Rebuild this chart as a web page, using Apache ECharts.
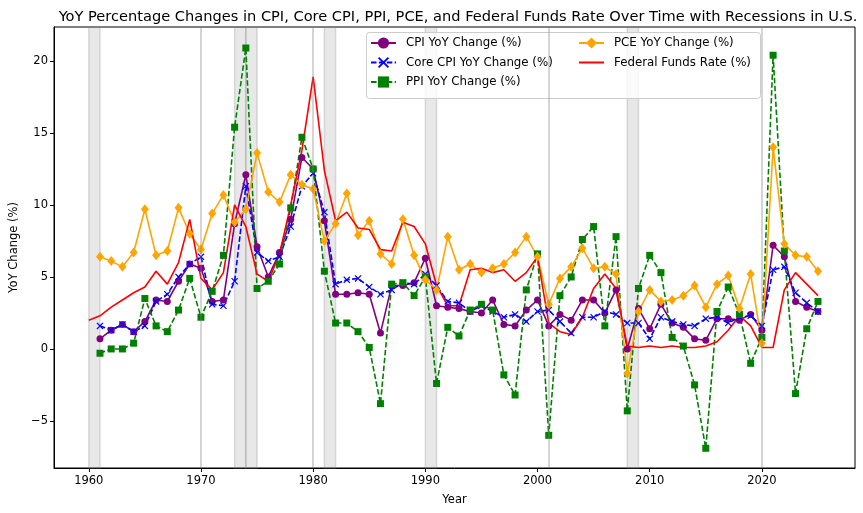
<!DOCTYPE html>
<html>
<head>
<meta charset="utf-8">
<script src="https://cdn.jsdelivr.net/npm/echarts@6/dist/echarts.min.js"></script>
<style>
html,body{margin:0;padding:0;background:#fff;}
#chart{width:863px;height:513px;}
</style>
</head>
<body>
<div id="chart"></div>
<script>
// ---- data ----
const years = [1961,1962,1963,1964,1965,1966,1967,1968,1969,1970,1971,1972,1973,1974,1975,1976,1977,1978,1979,1980,1981,1982,1983,1984,1985,1986,1987,1988,1989,1990,1991,1992,1993,1994,1995,1996,1997,1998,1999,2000,2001,2002,2003,2004,2005,2006,2007,2008,2009,2010,2011,2012,2013,2014,2015,2016,2017,2018,2019,2020,2021,2022,2023,2024,2025];
const fedYears = [1960].concat(years);
const cpi = [0.7,1.3,1.7,1.2,1.9,3.4,3.3,4.7,5.9,5.6,3.3,3.4,8.7,12.1,7.1,5.0,6.7,9.0,13.3,12.5,8.9,3.8,3.8,3.9,3.8,1.1,4.4,4.4,4.6,6.3,3.0,2.9,2.8,2.6,2.5,3.4,1.7,1.6,2.7,3.4,1.6,2.4,2.0,3.4,3.4,2.5,4.1,0.0,2.8,1.4,3.1,1.8,1.5,0.7,0.6,2.1,2.1,2.0,2.4,1.3,7.2,6.4,3.3,2.9,2.6];
const coreCpi = [1.6,1.3,1.7,1.2,1.6,3.3,3.8,5.0,5.9,6.4,3.1,3.0,4.7,11.3,6.7,6.1,6.4,8.5,11.3,12.2,9.5,4.5,4.8,4.9,4.3,3.8,4.1,4.6,4.5,5.2,4.4,3.3,3.2,2.6,3.0,2.6,2.2,2.4,1.9,2.6,2.7,1.9,1.1,2.2,2.2,2.6,2.4,1.8,1.8,0.7,2.2,1.9,1.7,1.6,2.1,2.2,1.8,2.2,2.3,1.6,5.5,5.7,3.9,3.2,2.6];
const ppi = [-0.3,0.0,0.0,0.4,3.5,1.6,1.2,2.7,4.9,2.2,4.0,6.5,15.4,20.9,4.2,4.7,5.9,9.8,14.7,12.5,5.4,1.8,1.8,1.2,0.1,-3.8,4.5,4.6,3.7,5.0,-2.4,1.5,0.9,2.7,3.1,2.7,-1.8,-3.2,4.1,6.6,-6.0,3.7,5.0,7.6,8.5,1.6,7.8,-4.3,4.2,6.5,5.3,0.8,0.2,-2.5,-6.9,2.6,4.3,2.4,-1.0,0.8,20.4,6.8,-3.1,1.4,3.3];
const pce = [6.4,6.1,5.7,6.7,9.7,6.5,6.8,9.8,8.0,6.9,9.4,10.7,8.8,9.7,13.6,10.9,10.2,12.1,11.4,11.1,7.5,8.7,10.8,7.9,8.9,6.6,5.9,9.0,6.5,4.8,4.1,7.8,5.5,5.9,5.3,5.6,5.9,6.7,7.8,6.4,3.1,4.9,5.7,7.0,5.6,5.7,5.2,-1.7,2.6,4.1,3.3,3.4,3.7,4.4,2.9,4.5,5.1,2.8,5.2,0.4,14.0,7.3,6.5,6.4,5.4];
const fedFunds = [2.0,2.3,2.9,3.4,3.9,4.3,5.4,4.5,6.0,9.0,4.9,4.1,5.3,10.0,8.5,5.2,4.7,6.6,10.0,13.8,18.9,12.4,8.9,9.5,8.4,8.3,6.9,6.8,8.8,8.5,7.3,4.4,3.0,3.0,5.5,5.6,5.3,5.5,4.7,5.3,6.4,1.8,1.2,1.0,2.2,4.2,5.2,4.2,0.2,0.1,0.2,0.1,0.2,0.1,0.1,0.2,0.5,1.3,2.3,1.6,0.1,0.1,4.1,5.3,4.5,3.7];
const recessionSpans = [[1960,1961],[1973,1974],[1974,1975],[1981,1982],[1990,1991],[2008,2009]];
const recessionLines = [1970,1980,2001,2020];
const xTicks = [1960,1970,1980,1990,2000,2010,2020];
const yTicks = [-5,0,5,10,15,20];

const names = ['CPI YoY Change (%)','Core CPI YoY Change (%)','PPI YoY Change (%)','PCE YoY Change (%)','Federal Funds Rate (%)'];
const pair = (xs, vs) => xs.map((x, i) => [x, vs[i]]);
const FONT = 'DejaVu Sans';
const xPath = 'path://M0,1.2L1.2,0L5,3.8L8.8,0L10,1.2L6.2,5L10,8.8L8.8,10L5,6.2L1.2,10L0,8.8L3.8,5Z';
const legendText = {fontFamily:FONT, fontSize:11.8, color:'#000', padding:[0,0,0,5]};

const chart = echarts.init(document.getElementById('chart'), null, {renderer:'canvas'});
chart.setOption({
  animation:false,
  backgroundColor:'#fff',
  title:{
    text:'YoY Percentage Changes in CPI, Core CPI, PPI, PCE, and Federal Funds Rate Over Time with Recessions in U.S.',
    left:453, top:5, textAlign:'center',
    textStyle:{fontFamily:FONT, fontSize:14.6, fontWeight:'normal', color:'#000'}
  },
  grid:{left:51, right:8, top:27, bottom:45, show:true, borderColor:'#000', borderWidth:1, backgroundColor:'transparent'},
  graphic:[{
    type:'rect', z:3,
    shape:{x:366.5, y:32.5, width:394, height:66, r:3},
    style:{fill:'rgba(255,255,255,0.8)', stroke:'#cccccc', lineWidth:1}
  }],
  legend:[
    {data:names.slice(0,3), orient:'vertical', left:370, top:37, padding:0, itemWidth:25, itemHeight:14, itemGap:7.5,
     textStyle:legendText},
    {data:[names[3], {name:names[4], itemStyle:{opacity:0}}], orient:'vertical', left:578, top:37, padding:0,
     itemWidth:25, itemHeight:14, itemGap:7.5, textStyle:legendText}
  ],
  xAxis:{
    type:'value', min:1956.9, max:2028.3,
    name:'Year', nameLocation:'middle', nameGap:26,
    nameTextStyle:{fontFamily:FONT, fontSize:11.5, color:'#000'},
    axisLine:{show:true, onZero:false, lineStyle:{color:'#000', width:1}},
    axisTick:{show:true, length:4, customValues:xTicks, lineStyle:{color:'#000'}},
    axisLabel:{customValues:xTicks, fontFamily:FONT, fontSize:11.5, color:'#000', margin:7,
      formatter: v => String(v)},
    splitLine:{show:false}
  },
  yAxis:{
    type:'value', min:-8.27, max:22.36,
    name:'YoY Change (%)', nameLocation:'middle', nameGap:34, nameRotate:90,
    nameTextStyle:{fontFamily:FONT, fontSize:11.5, color:'#000'},
    axisLine:{show:true, onZero:false, lineStyle:{color:'#000', width:1}},
    axisTick:{show:true, length:4, customValues:yTicks, lineStyle:{color:'#000'}},
    axisLabel:{customValues:yTicks, fontFamily:FONT, fontSize:11.5, color:'#000', margin:6,
      formatter: v => String(v).replace('-', '\u2212')},
    splitLine:{show:false}
  },
  series:[
    {type:'line', name:'_rec', data:[], silent:true, z:1,
     markArea:{silent:true, itemStyle:{color:'rgba(128,128,128,0.18)', borderColor:'rgba(128,128,128,0.25)', borderWidth:1.5},
       data:recessionSpans.map(s => [{xAxis:s[0]},{xAxis:s[1]}])},
     markLine:{silent:true, symbol:['none','none'], label:{show:false},
       lineStyle:{color:'rgba(128,128,128,0.33)', width:2, type:'solid'},
       data:recessionLines.map(x => ({xAxis:x}))}
    },
    {type:'line', name:names[0], data:pair(years,cpi), color:'#800080',
     symbol:'circle', symbolSize:7, lineStyle:{width:1.6, color:'#800080'}, itemStyle:{color:'#800080'}},
    {type:'line', name:names[1], data:pair(years,coreCpi), color:'#0000ff',
     symbol:xPath, symbolSize:7, lineStyle:{width:1.6, color:'#0000ff', type:[5.5,2.4]}, itemStyle:{color:'#0000ff'}},
    {type:'line', name:names[2], data:pair(years,ppi), color:'#008000',
     symbol:'rect', symbolSize:7, lineStyle:{width:1.6, color:'#008000', type:[5.5,2.4]}, itemStyle:{color:'#008000'}},
    {type:'line', name:names[3], data:pair(years,pce), color:'#ffa500',
     symbol:'diamond', symbolSize:[8,10], lineStyle:{width:1.6, color:'#ffa500'}, itemStyle:{color:'#ffa500'}},
    {type:'line', name:names[4], data:pair(fedYears,fedFunds), color:'#ff0000',
     showSymbol:false, symbol:'none', lineStyle:{width:1.6, color:'#ff0000'}, itemStyle:{color:'#ff0000'}}
  ]
});
</script>
</body>
</html>
